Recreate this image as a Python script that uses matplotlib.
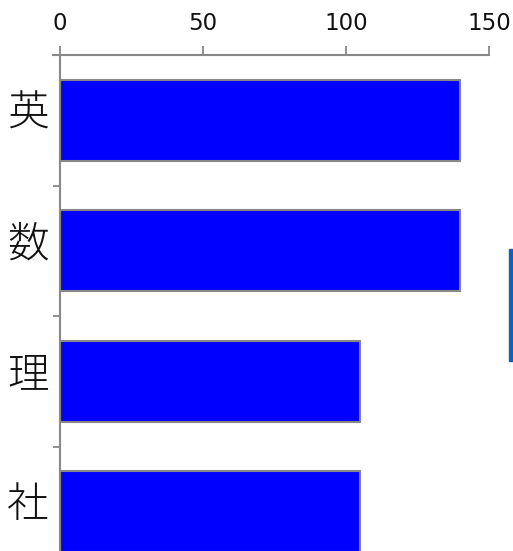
import matplotlib
matplotlib.use("Agg")
import matplotlib.pyplot as plt
import matplotlib.transforms as mtransforms
from matplotlib.patches import Rectangle

plt.rcParams['font.family'] = ['DejaVu Sans', 'Noto Sans CJK JP']

categories = ['英', '数', '理', '社']
values = [140, 140, 105, 105]
x_ticks = [0, 50, 100, 150]

fig = plt.figure(figsize=(5.13, 5.51), dpi=100)
ax = fig.add_axes([60/513, -26/551, 429/513, 522/551])

ax.barh(range(len(categories)), values, height=0.62, color='#0000ff',
        edgecolor='#888888', linewidth=1.5)
ax.set_ylim(len(categories) - 0.5, -0.5)
ax.set_xlim(0, 150)

ax.xaxis.tick_top()
ax.set_xticks(x_ticks)
ax.set_xticklabels([str(t) for t in x_ticks], fontsize=16.5, color='#111111')
ax.tick_params(axis='x', direction='out', length=6.5, width=1.3, color='#888888', pad=8)

ax.set_yticks([i + 0.5 for i in range(len(categories) - 1)])
ax.set_yticklabels([])
ax.set_yticks(range(len(categories)), minor=True)
ax.set_yticklabels(categories, minor=True, fontsize=30, fontweight='light',
                   family=['Noto Sans CJK JP', 'DejaVu Sans'], color='#111111')
ax.tick_params(axis='y', which='major', direction='out', length=5, width=1.3, color='#888888')
ax.tick_params(axis='y', which='minor', length=0, pad=8)
offset = mtransforms.ScaledTranslation(0, 8/72, fig.dpi_scale_trans)
for lbl in ax.get_yticklabels(minor=True):
    lbl.set_transform(lbl.get_transform() + offset)

for s in ['right', 'bottom']:
    ax.spines[s].set_visible(False)
for s in ['left', 'top']:
    ax.spines[s].set_color('#888888')
    ax.spines[s].set_linewidth(1.5)
ax.spines['top'].set_bounds(-7 * 150 / 429, 150)

fig.patches.append(Rectangle((509/513, 1 - 361/551), 4/513, 112/551,
                             transform=fig.transFigure, color='#0066cc'))

fig.savefig('out.png', dpi=100)
